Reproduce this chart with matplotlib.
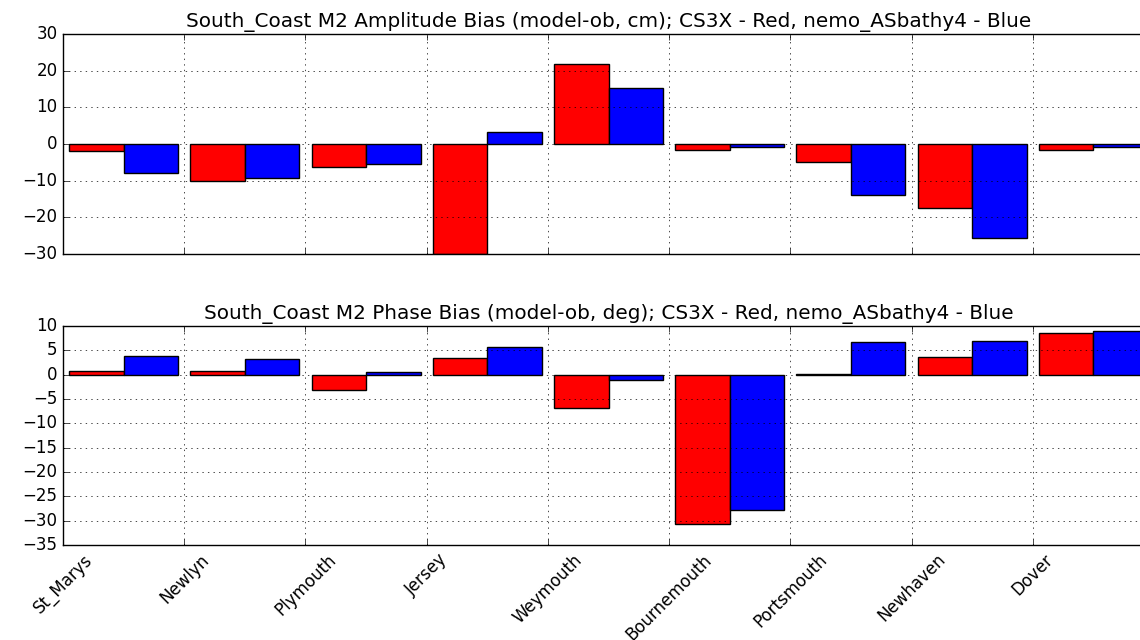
import numpy as np
import matplotlib
matplotlib.use('Agg')
import matplotlib.pyplot as plt

# Dados
ports = ['St_Marys', 'Newlyn', 'Plymouth', 'Jersey', 'Weymouth',
         'Bournemouth', 'Portsmouth', 'Newhaven', 'Dover']
amp_cs3x = [-2.0, -10.2, -6.2, -30.0, 21.8, -1.6, -4.9, -17.5, -1.6]
amp_nemo = [-8.0, -9.3, -5.4, 3.3, 15.3, -0.8, -14.0, -25.5, -0.7]
pha_cs3x = [0.8, 0.8, -3.1, 3.4, -6.8, -30.7, 0.2, 3.7, 8.6]
pha_nemo = [3.9, 3.2, 0.6, 5.7, -1.1, -27.8, 6.7, 6.9, 8.9]

plt.style.use('classic')
plt.rcParams['figure.facecolor'] = 'white'
plt.rcParams['savefig.facecolor'] = 'white'

fig = plt.figure(figsize=(11.4, 6.4), dpi=100)
ax1 = fig.add_axes([63 / 1140, 1 - 254 / 640, 1091 / 1140, 220 / 640])
ax2 = fig.add_axes([63 / 1140, 1 - 545 / 640, 1091 / 1140, 219 / 640])

ind = np.arange(len(ports))
width = 0.45

ax1.bar(ind + 0.05, amp_cs3x, width, align='edge', color='r', edgecolor='k')
ax1.bar(ind + 0.05 + width, amp_nemo, width, align='edge', color='b', edgecolor='k')
ax1.set_title('South_Coast M2 Amplitude Bias (model-ob, cm); CS3X - Red, nemo_ASbathy4 - Blue')
ax1.set_ylim(-30, 30)
ax1.set_xlim(0, 9)
ax1.set_xticks(ind)
ax1.set_xticklabels([])
ax1.grid(True)

ax2.bar(ind + 0.05, pha_cs3x, width, align='edge', color='r', edgecolor='k')
ax2.bar(ind + 0.05 + width, pha_nemo, width, align='edge', color='b', edgecolor='k')
ax2.set_title('South_Coast M2 Phase Bias (model-ob, deg); CS3X - Red, nemo_ASbathy4 - Blue')
ax2.set_ylim(-35, 10)
ax2.set_yticks(np.arange(-35, 11, 5))
ax2.set_xlim(0, 9)
ax2.set_xticks(ind)
ax2.set_xticklabels(ports, rotation=45)
ax2.grid(True)

plt.savefig('out.png', dpi=100)
